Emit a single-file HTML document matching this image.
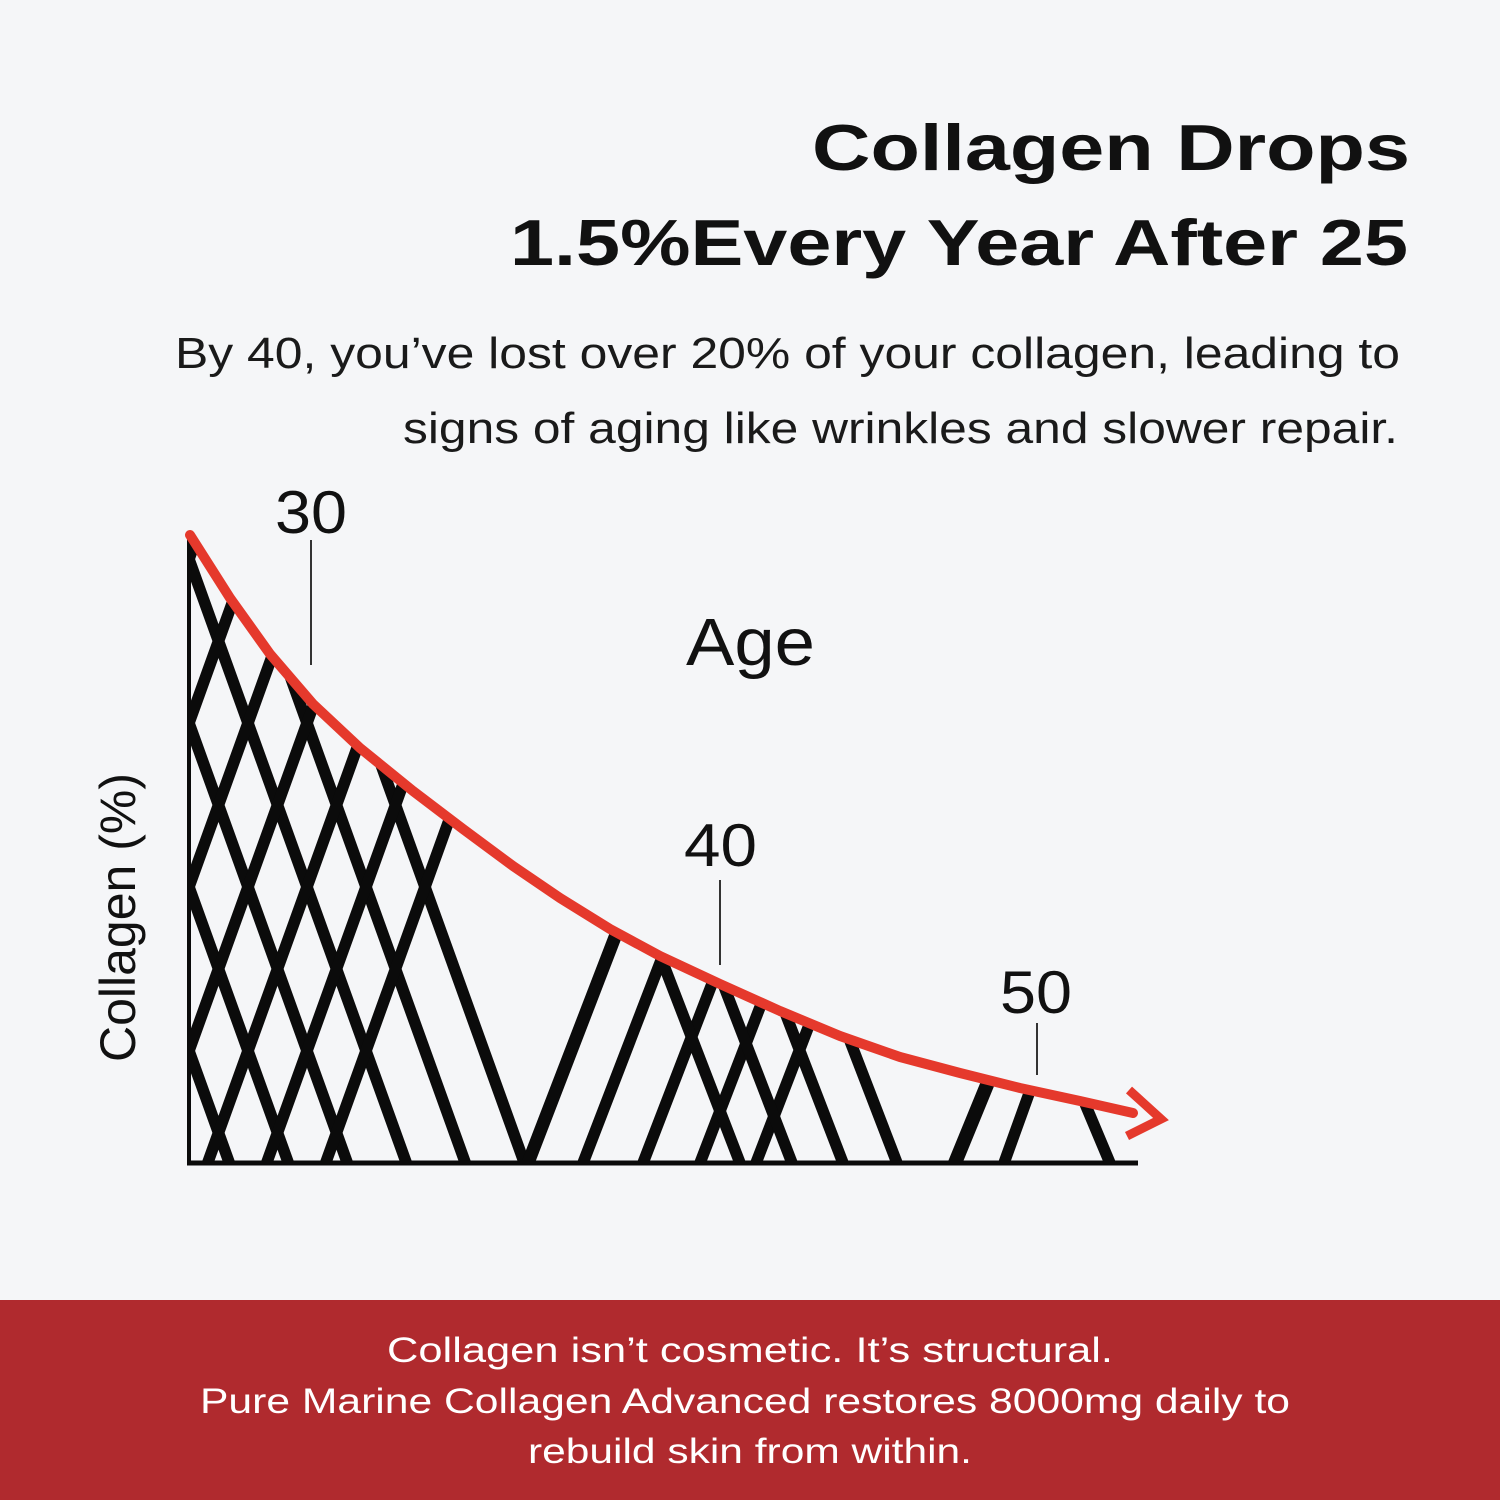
<!DOCTYPE html>
<html>
<head>
<meta charset="utf-8">
<style>
  html, body { margin: 0; padding: 0; background: #f5f6f8; }
  svg { display: block; }
  text { font-family: "Liberation Sans", "DejaVu Sans", sans-serif; }
</style>
</head>
<body>
<svg width="1500" height="1500" viewBox="0 0 1500 1500" xmlns="http://www.w3.org/2000/svg">
  <defs>
    <clipPath id="under">
      <polygon points="188,535 190,535 230,598 270,654 313,704 360,748 413,791 463,829 513,866 560,898 610,929 660,956 720,984 780,1011 840,1036 900,1057 960,1073 1020,1088 1080,1101 1133,1113 1145,1116 1145,1164 188,1164"/>
    </clipPath>
  </defs>

  <rect x="0" y="0" width="1500" height="1500" fill="#f5f6f8"/>

  <!-- Title -->
  <text x="812" y="170" font-size="65" font-weight="bold" fill="#111" textLength="598" lengthAdjust="spacingAndGlyphs">Collagen Drops</text>
  <text x="510" y="265" font-size="65" font-weight="bold" fill="#111" textLength="898" lengthAdjust="spacingAndGlyphs">1.5%Every Year After 25</text>

  <!-- Subtitle -->
  <text x="175" y="368" font-size="44" fill="#1a1a1a" textLength="1225" lengthAdjust="spacingAndGlyphs">By 40, you’ve lost over 20% of your collagen, leading to</text>
  <text x="403" y="443" font-size="44" fill="#1a1a1a" textLength="995" lengthAdjust="spacingAndGlyphs">signs of aging like wrinkles and slower repair.</text>

  <!-- Hatch lines -->
  <g clip-path="url(#under)" stroke="#0b0b0b" stroke-width="11.5" stroke-linecap="butt" fill="none">
    <!-- left section: down-right -->
    <line x1="-27.3" y1="450" x2="231.9" y2="1170"/>
    <line x1="31.7" y1="450" x2="290.9" y2="1170"/>
    <line x1="90.7" y1="450" x2="349.9" y2="1170"/>
    <line x1="149.7" y1="450" x2="408.9" y2="1170"/>
    <line x1="208.7" y1="450" x2="467.9" y2="1170"/>
    <line x1="267.7" y1="450" x2="526.9" y2="1170"/>
    <!-- left section: up-right -->
    <line x1="228.3" y1="450" x2="-30.9" y2="1170"/>
    <line x1="287.3" y1="450" x2="28.1" y2="1170"/>
    <line x1="346.3" y1="450" x2="87.1" y2="1170"/>
    <line x1="405.3" y1="450" x2="146.1" y2="1170"/>
    <line x1="464.3" y1="450" x2="205.1" y2="1170"/>
    <line x1="523.3" y1="450" x2="264.1" y2="1170"/>
    <line x1="582.3" y1="450" x2="323.1" y2="1170"/>
    <!-- middle section -->
    <line x1="525.3" y1="1170" x2="648.5" y2="850" stroke-width="13"/>
    <line x1="580.3" y1="1170" x2="703.5" y2="850"/>
    <line x1="640.3" y1="1170" x2="763.5" y2="850"/>
    <line x1="697.3" y1="1170" x2="820.5" y2="850"/>
    <line x1="753.3" y1="1170" x2="876.5" y2="850"/>
    <line x1="742.7" y1="1170" x2="619.5" y2="850"/>
    <line x1="794.7" y1="1170" x2="671.5" y2="850"/>
    <line x1="845.7" y1="1170" x2="722.5" y2="850"/>
    <line x1="899.7" y1="1170" x2="776.5" y2="850"/>
    <!-- right section -->
    <line x1="952.1" y1="1170" x2="1001.3" y2="1050" stroke-width="14"/>
    <line x1="1001.5" y1="1170" x2="1044.7" y2="1050"/>
    <line x1="1112.9" y1="1170" x2="1062.5" y2="1050"/>
  </g>

  <!-- Axes -->
  <line x1="189" y1="537" x2="189" y2="1165" stroke="#0b0b0b" stroke-width="4"/>
  <line x1="187" y1="1163" x2="1138" y2="1163" stroke="#0b0b0b" stroke-width="5"/>

  <!-- Tick marks -->
  <line x1="311" y1="540" x2="311" y2="665" stroke="#333" stroke-width="2"/>
  <line x1="720" y1="880" x2="720" y2="965" stroke="#333" stroke-width="2"/>
  <line x1="1037" y1="1023" x2="1037" y2="1075" stroke="#333" stroke-width="2"/>

  <!-- Red curve -->
  <polyline points="190,535 230,598 270,654 313,704 360,748 413,791 463,829 513,866 560,898 610,929 660,956 720,984 780,1011 840,1036 900,1057 960,1073 1020,1088 1080,1101 1133,1113" fill="none" stroke="#e5392c" stroke-width="10" stroke-linecap="round" stroke-linejoin="round"/>
  <polyline points="1129,1090 1161,1119 1127,1136" fill="none" stroke="#e5392c" stroke-width="9" stroke-linecap="butt" stroke-linejoin="miter"/>

  <!-- Tick labels -->
  <text x="275" y="533" font-size="60" fill="#111" textLength="72" lengthAdjust="spacingAndGlyphs">30</text>
  <text x="684" y="866" font-size="60" fill="#111" textLength="73" lengthAdjust="spacingAndGlyphs">40</text>
  <text x="1000" y="1013" font-size="60" fill="#111" textLength="72" lengthAdjust="spacingAndGlyphs">50</text>
  <text x="686" y="665" font-size="67" fill="#111" textLength="129" lengthAdjust="spacingAndGlyphs">Age</text>

  <!-- Y axis label -->
  <text transform="translate(135,1062) rotate(-90)" font-size="50" fill="#111" textLength="289" lengthAdjust="spacingAndGlyphs">Collagen (%)</text>

  <!-- Bottom band -->
  <rect x="0" y="1300" width="1500" height="200" fill="#b02a2e"/>
  <text x="387" y="1362" font-size="35" fill="#ffffff" textLength="726" lengthAdjust="spacingAndGlyphs">Collagen isn’t cosmetic. It’s structural.</text>
  <text x="200" y="1413" font-size="35" fill="#ffffff" textLength="1090" lengthAdjust="spacingAndGlyphs">Pure Marine Collagen Advanced restores 8000mg daily to</text>
  <text x="528" y="1463" font-size="35" fill="#ffffff" textLength="444" lengthAdjust="spacingAndGlyphs">rebuild skin from within.</text>
</svg>
</body>
</html>
